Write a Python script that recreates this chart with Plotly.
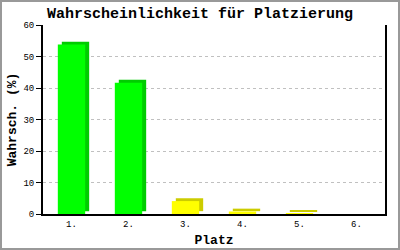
import plotly.graph_objects as go

categories = ["1.", "2.", "3.", "4.", "5.", "6."]
values = [53.8, 41.7, 4.1, 0.8, 0.2, 0.0]
front_colors = ["#00FF00", "#00FF00", "#FFFF00", "#FFFF00", "#FFFF00", "#FFFF00"]
side_colors = ["#00CC00", "#00CC00", "#CCCC00", "#CCCC00", "#CCCC00", "#CCCC00"]
y_ticks = [0, 10, 20, 30, 40, 50, 60]

depth = 0.9  # pseudo-3D depth in value units
fig = go.Figure()
fig.add_trace(go.Bar(
    x=categories, y=[v if v > 0 else 0 for v in values], base=[depth if v > 0 else 0 for v in values],
    marker=dict(color=side_colors, line=dict(width=0)),
    offset=-0.17, width=0.48, hoverinfo="skip", showlegend=False))
fig.add_trace(go.Bar(
    x=categories, y=values,
    marker=dict(color=front_colors, line=dict(width=0)),
    offset=-0.24, width=0.48, showlegend=False))

mono = "Liberation Mono, Courier New, monospace"
fig.update_layout(
    width=400, height=250,
    margin=dict(l=43, r=15, t=25, b=36, autoexpand=False),
    paper_bgcolor="white", plot_bgcolor="white",
    barmode="overlay",
    title=dict(text="<b>Wahrscheinlichkeit für Platzierung</b>", x=0.5, xanchor="center",
               y=1 - 13 / 250, yanchor="middle",
               font=dict(family=mono, size=15, color="black")),
    xaxis=dict(showline=True, linecolor="black", linewidth=2, ticks="", showgrid=False,
               automargin=False,
               tickfont=dict(family=mono, size=9, color="black"),
               title=dict(text="<b>Platz</b>", font=dict(family=mono, size=13, color="black"), standoff=6),
               range=[-0.5, 5.5]),
    yaxis=dict(range=[0, 60], tickvals=y_ticks, showline=True, linecolor="black", linewidth=2,
               automargin=False,
               mirror=True, ticks="outside", ticklen=5, tickcolor="black", tickwidth=1,
               showgrid=True, gridcolor="#c0c0c0", griddash="dot", gridwidth=1,
               zeroline=False,
               tickfont=dict(family=mono, size=9, color="black"),
               title=dict(text="<b>Wahrsch. (%)</b>", font=dict(family=mono, size=13, color="black"), standoff=4)),
    shapes=[dict(type="rect", xref="paper", yref="paper",
                 x0=-42 / 342, x1=1 + 14 / 342, y0=-35 / 189, y1=1 + 24 / 189,
                 line=dict(color="#999999", width=2), layer="below")],
)
fig.write_html("out.html")
